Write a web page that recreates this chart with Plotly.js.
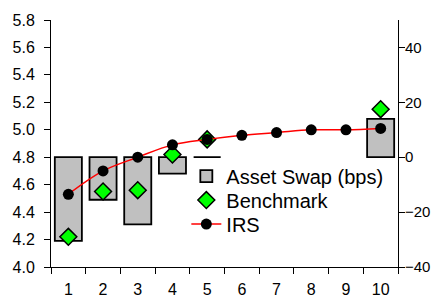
<!DOCTYPE html>
<html>
<head>
<meta charset="utf-8">
<script src="https://cdn.plot.ly/plotly-3.0.1.min.js"></script>
<style>html,body{margin:0;padding:0;background:#fff;}#chart{width:436px;height:300px;}</style>
</head>
<body>
<div id="chart"></div>
<script>
var categories = ['1','2','3','4','5','6','7','8','9','10'];
var assetSwap = [-30.5, -15.5, -24.5, -6, 0, null, null, null, null, 14];
var benchmark = [4.22, 4.55, 4.56, 4.82, 4.93, null, null, null, null, 5.15];
var irs = [4.53, 4.70, 4.80, 4.89, 4.93, 4.96, 4.98, 5.00, 5.00, 5.01];
var leftTicks = [4.0, 4.2, 4.4, 4.6, 4.8, 5.0, 5.2, 5.4, 5.6, 5.8];
var rightTicks = [-40, -20, 0, 20, 40];

var fam = 'Liberation Sans, Arial, sans-serif';
var font = {family: fam, size: 16, color: '#000'};
var legFont = {family: fam, size: 20, color: '#000'};

var traces = [
  {
    type: 'bar', name: 'Asset Swap (bps)', x: categories, y: assetSwap, yaxis: 'y', legend: 'legend',
    marker: {color: '#c0c0c0', line: {color: '#000', width: 1.8}}
  },
  {
    type: 'scatter', mode: 'markers', name: 'Benchmark', x: categories, y: benchmark, yaxis: 'y2', legend: 'legend2',
    marker: {symbol: 'diamond', size: 13, color: '#00ff00', line: {color: '#000', width: 1.5}}
  },
  {
    type: 'scatter', mode: 'lines+markers', name: 'IRS', x: categories, y: irs, yaxis: 'y2', legend: 'legend3',
    line: {color: '#ff0000', width: 1.5, shape: 'spline'},
    marker: {symbol: 'circle', size: 11, color: '#000'}
  }
];

function leg(y) {
  return {x: 0.39, y: y, xanchor: 'left', yanchor: 'middle', bgcolor: 'rgba(0,0,0,0)',
          font: legFont, itemwidth: 30};
}

var layout = {
  width: 436, height: 300,
  margin: {l: 51, r: 38, t: 20, b: 33},
  paper_bgcolor: '#fff', plot_bgcolor: 'rgba(0,0,0,0)',
  font: font,
  showlegend: true,
  bargap: 0.22,
  legend: leg(0.368),
  legend2: leg(0.271),
  legend3: leg(0.174),
  xaxis: {
    type: 'category', categoryorder: 'array', categoryarray: categories,
    range: [-0.5, 9.5], tickson: 'boundaries', ticks: 'outside', ticklen: 6, tickcolor: '#000',
    ticklabelstandoff: 8,
    showline: true, linecolor: '#000', linewidth: 1, showgrid: false, zeroline: false,
    tickfont: font
  },
  yaxis: {
    side: 'right', range: [-40, 50], tickmode: 'array', tickvals: rightTicks,
    ticks: 'outside', ticklen: 6, tickcolor: '#000', ticklabelstandoff: -3,
    showline: true, linecolor: '#000', linewidth: 1, showgrid: false, zeroline: false,
    tickfont: {family: fam, size: 15, color: '#000'}
  },
  yaxis2: {
    overlaying: 'y', side: 'left', range: [4.0, 5.8], tickmode: 'array', tickvals: leftTicks,
    ticktext: leftTicks.map(function(v){return v.toFixed(1);}),
    ticks: 'outside', ticklen: 6, tickcolor: '#000', ticklabelstandoff: 6,
    showline: true, linecolor: '#000', linewidth: 1, showgrid: false, zeroline: false,
    tickfont: font
  }
};

Plotly.newPlot('chart', traces, layout, {staticPlot: true, displayModeBar: false});
</script>
</body>
</html>
